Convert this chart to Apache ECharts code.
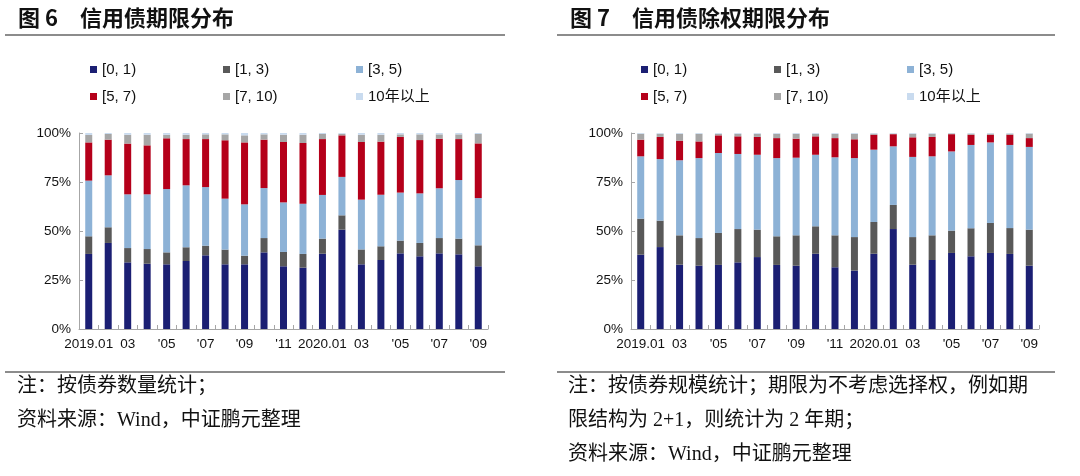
<!DOCTYPE html>
<html><head><meta charset="utf-8">
<script src="https://cdn.jsdelivr.net/npm/echarts@6/dist/echarts.min.js"></script>
<style>html,body{margin:0;padding:0;background:#fff;}#c{width:1080px;height:476px;}</style>
</head><body><div id="c"></div>
<script>
const categories = ['2019.01','2019.02','2019.03','2019.04','2019.05','2019.06','2019.07','2019.08','2019.09','2019.10','2019.11','2019.12','2020.01','2020.02','2020.03','2020.04','2020.05','2020.06','2020.07','2020.08','2020.09'];
const tickLabels = ['2019.01','','03','',"'05",'',"'07",'',"'09",'',"'11",'','2020.01','','03','',"'05",'',"'07",'',"'09"];
const yTicks = ['0%','25%','50%','75%','100%'];
const seriesNames = ['[0, 1)','[1, 3)','[3, 5)','[5, 7)','[7, 10)','10年以上'];

// 图6 信用债期限分布 (%)
const left_0_1   = [38.3,43.9,34.0,33.3,33.0,34.7,37.6,33.0,33.0,39.1,32.0,31.3,38.4,50.7,33.0,35.2,38.6,37.1,38.6,38.1,32.0];
const left_1_3   = [9.0,8.0,7.3,7.5,6.1,7.0,4.9,7.5,4.4,7.3,7.3,7.0,7.7,7.3,7.6,7.0,6.5,6.8,7.8,8.0,10.7];
const left_3_5   = [28.4,26.5,27.4,27.9,32.3,31.6,29.9,26.0,26.2,25.5,25.3,25.6,22.3,19.6,25.4,26.3,24.5,25.3,25.4,29.9,24.1];
const left_5_7   = [19.5,18.2,25.9,25.0,25.9,23.6,24.5,29.8,31.6,24.7,30.8,31.0,28.5,21.2,29.4,27.1,28.4,27.2,25.3,20.9,27.9];
const left_7_10  = [3.8,2.9,4.5,5.4,1.8,2.2,2.4,3.0,3.6,2.7,3.7,4.2,2.6,0.8,3.7,3.5,1.3,2.9,2.2,2.4,4.8];
const left_10p   = [1.0,0.5,0.9,0.9,0.9,0.9,0.7,0.7,1.2,0.7,0.9,0.9,0.5,0.4,0.9,0.9,0.7,0.7,0.7,0.7,0.5];

// 图7 信用债除权期限分布 (%)
const right_0_1  = [37.9,41.8,32.8,32.3,32.7,34.0,36.7,32.7,32.3,38.4,31.5,29.8,38.4,51.0,32.8,35.2,38.8,37.1,38.8,38.3,32.3];
const right_1_3  = [18.4,13.5,15.0,14.1,16.3,17.0,14.0,14.6,15.5,14.0,16.3,17.1,16.2,12.3,14.1,12.6,11.4,14.3,15.3,13.2,18.4];
const right_3_5  = [31.8,31.4,38.3,40.8,40.8,38.3,38.2,39.9,39.6,36.5,39.8,40.3,36.9,29.9,40.9,40.3,40.4,42.5,41.1,42.4,42.2];
const right_5_7  = [8.5,11.3,10.0,8.5,9.0,9.0,9.1,10.2,9.7,9.4,9.8,9.6,7.6,6.2,10.0,9.9,8.8,5.2,3.9,5.2,4.5];
const right_7_10 = [3.0,1.6,3.5,3.9,0.8,1.3,1.6,2.2,2.5,1.3,2.2,2.8,0.6,0.3,1.8,1.6,0.4,0.6,0.6,0.6,2.3];
const right_10p  = [0.4,0.4,0.4,0.4,0.4,0.4,0.4,0.4,0.4,0.4,0.4,0.4,0.3,0.3,0.4,0.4,0.2,0.3,0.3,0.3,0.3];

const colors = ['#1b1f73','#595959','#8db2d6','#b5001a','#a6a6a6','#c9dbef'];
const leftData = [left_0_1,left_1_3,left_3_5,left_5_7,left_7_10,left_10p];
const rightData = [right_0_1,right_1_3,right_3_5,right_5_7,right_7_10,right_10p];

const sansFont = '"Liberation Sans", Arial, "Noto Sans CJK SC", sans-serif';
const cjkFont = '"Noto Sans CJK SC", sans-serif';
const noteFont = '"Liberation Serif", "Noto Sans CJK SC", serif';

function xAxis(gi){
  return {type:'category', gridIndex:gi, data:categories,
    axisLine:{lineStyle:{color:'#a6a6a6',width:1}},
    axisTick:{show:true, inside:true, length:4, interval:0, lineStyle:{color:'#a6a6a6'}},
    axisLabel:{interval:0, margin:9, color:'#111', fontSize:13.5, fontFamily:sansFont,
      formatter:(v,i)=>tickLabels[i]}};
}
function yAxis(gi){
  return {type:'value', gridIndex:gi, min:0, max:100, interval:25,
    axisLine:{show:true, lineStyle:{color:'#a6a6a6',width:1}},
    axisTick:{show:true, inside:true, length:4, lineStyle:{color:'#a6a6a6'}},
    splitLine:{show:false},
    axisLabel:{margin:8, color:'#111', fontSize:13.5, fontFamily:sansFont,
      formatter:(v)=>yTicks[Math.round(v/25)]}};
}
const series = [];
[leftData,rightData].forEach((arrs,gi)=>{
  arrs.forEach((arr,k)=>{
    series.push({type:'bar', name:seriesNames[k], xAxisIndex:gi, yAxisIndex:gi,
      stack:'s'+gi, data:arr, barWidth:7, itemStyle:{color:colors[k]},
      emphasis:{disabled:true}, silent:true, animation:false});
  });
});
// one legend block per item, laid out in a 3x2 grid above each chart
const legendCols = [[90,223,356],[641,774,907]];
const legendRows = [62,89];
const legends = [];
legendCols.forEach(cols=>{
  seriesNames.forEach((nm,k)=>{
    legends.push({data:[nm], left:cols[k%3], top:legendRows[Math.floor(k/3)],
      itemWidth:7, itemHeight:7, icon:'rect', selectedMode:false, padding:0,
      textStyle:{fontSize:15, color:'#111', fontFamily:sansFont}});
  });
});
const lineStyle = {stroke:'#666', lineWidth:1.5};
const option = {
  animation:false,
  grid:[{left:79, top:133, width:409, height:196},{left:631, top:133, width:408, height:196}],
  xAxis:[xAxis(0),xAxis(1)],
  yAxis:[yAxis(0),yAxis(1)],
  legend:legends,
  series:series,
  graphic:[
    {type:'text', left:18, top:7, style:{text:'图 6　信用债期限分布', fill:'#111', font:'bold 22px '+cjkFont}},
    {type:'text', left:570, top:7, style:{text:'图 7　信用债除权期限分布', fill:'#111', font:'bold 22px '+cjkFont}},
    {type:'line', shape:{x1:5,y1:35,x2:505,y2:35}, style:lineStyle},
    {type:'line', shape:{x1:557,y1:35,x2:1055,y2:35}, style:lineStyle},
    {type:'line', shape:{x1:5,y1:372,x2:505,y2:372}, style:lineStyle},
    {type:'line', shape:{x1:557,y1:372,x2:1055,y2:372}, style:lineStyle},
    {type:'text', left:17, top:377, style:{text:'注：按债券数量统计；', fill:'#111', font:'20px '+noteFont}},
    {type:'text', left:17, top:411, style:{text:'资料来源：Wind，中证鹏元整理', fill:'#111', font:'20px '+noteFont}},
    {type:'text', left:568, top:377, style:{text:'注：按债券规模统计；期限为不考虑选择权，例如期', fill:'#111', font:'20px '+noteFont}},
    {type:'text', left:568, top:411, style:{text:'限结构为 2+1，则统计为 2 年期；', fill:'#111', font:'20px '+noteFont}},
    {type:'text', left:568, top:445, style:{text:'资料来源：Wind，中证鹏元整理', fill:'#111', font:'20px '+noteFont}}
  ]
};
const chart = echarts.init(document.getElementById('c'), null, {renderer:'canvas'});
chart.setOption(option);
</script></body></html>
